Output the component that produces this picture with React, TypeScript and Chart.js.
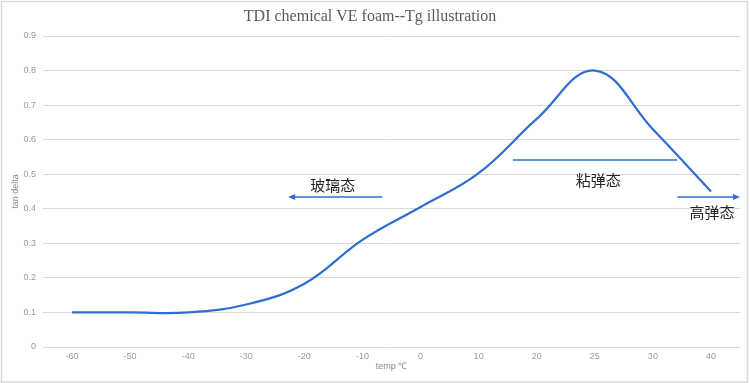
import React, { useEffect, useRef } from "react";
import { Chart, registerables } from "chart.js";

Chart.register(...registerables);

const temps = ["-60", "-50", "-40", "-30", "-20", "-10", "0", "10", "20", "25", "30", "40"];
const tanDelta = [0.1, 0.1, 0.1, 0.123, 0.183, 0.31, 0.405, 0.503, 0.66, 0.8, 0.63, 0.45];

// annotations in data coordinates (x = category index, y = tan delta)
const stateLabels = ["玻璃态", "粘弹态", "高弹态"];
const labelX = [4.49, 9.06, 11.02];
const labelY = [0.469, 0.483, 0.39];
const arrowFromX = [5.34, 7.59, 10.42];
const arrowToX = [3.72, 10.42, 11.5];
const arrowY = [0.434, 0.541, 0.434];
const arrowHead = [true, false, true];

const LINE_COLOR = "#2f6fd1";

const annotationPlugin = {
  id: "stateAnnotations",
  afterDatasetsDraw(chart: any) {
    const { ctx } = chart;
    const xs = chart.scales.x;
    const ys = chart.scales.y;
    ctx.save();
    for (let i = 0; i < stateLabels.length; i++) {
      const x1 = xs.getPixelForValue(arrowFromX[i]);
      const x2 = xs.getPixelForValue(arrowToX[i]);
      const y = ys.getPixelForValue(arrowY[i]);
      ctx.strokeStyle = LINE_COLOR;
      ctx.fillStyle = LINE_COLOR;
      ctx.lineWidth = 1.5;
      const dir = Math.sign(x2 - x1);
      const endX = arrowHead[i] ? x2 - dir * 5 : x2;
      ctx.beginPath();
      ctx.moveTo(x1, y);
      ctx.lineTo(endX, y);
      ctx.stroke();
      if (arrowHead[i]) {
        ctx.beginPath();
        ctx.moveTo(x2, y);
        ctx.lineTo(x2 - dir * 7, y - 3);
        ctx.lineTo(x2 - dir * 7, y + 3);
        ctx.closePath();
        ctx.fill();
      }
      ctx.fillStyle = "#262626";
      ctx.font = '15px "Noto Sans CJK SC"';
      ctx.textAlign = "center";
      ctx.textBaseline = "middle";
      ctx.fillText(stateLabels[i], xs.getPixelForValue(labelX[i]), ys.getPixelForValue(labelY[i]));
    }
    ctx.restore();
  },
};

const borderPlugin = {
  id: "outerBorder",
  beforeDraw(chart: any) {
    const { ctx, width, height } = chart;
    ctx.save();
    ctx.fillStyle = "#ffffff";
    ctx.fillRect(0, 0, width, height);
    ctx.strokeStyle = "#d9d9d9";
    ctx.lineWidth = 1.5;
    ctx.strokeRect(1.5, 1.5, width - 4, height - 2.5);
    ctx.restore();
  },
};

export default function App() {
  const ref = useRef<HTMLCanvasElement>(null);
  useEffect(() => {
    if (!ref.current) return;
    const chart = new Chart(ref.current, {
      type: "line",
      data: {
        labels: temps,
        datasets: [
          {
            data: tanDelta,
            borderColor: LINE_COLOR,
            backgroundColor: LINE_COLOR,
            borderWidth: 2.25,
            pointRadius: 0,
            tension: 0.4,
            fill: false,
          },
        ],
      },
      options: {
        animation: false,
        responsive: false,
        layout: { padding: { left: 0, right: 10, top: 0, bottom: 0 } },
        plugins: {
          legend: { display: false },
          tooltip: { enabled: false },
          title: {
            display: true,
            text: "TDI chemical VE foam--Tg illustration",
            color: "#595959",
            font: { family: '"Liberation Serif", serif', size: 16, weight: "normal" },
            padding: { top: 7, bottom: 9.8 },
          },
        },
        scales: {
          x: {
            offset: true,
            grid: { display: false, drawTicks: false },
            border: { display: false },
            ticks: {
              color: "#9a9a9a",
              font: { family: '"Liberation Sans", sans-serif', size: 9 },
              padding: 4,
              maxRotation: 0,
            },
            title: {
              display: true,
              text: "temp ℃",
              color: "#8a8a8a",
              font: { family: '"Liberation Sans", sans-serif', size: 9 },
              padding: { top: 0, bottom: 10.6 },
            },
            afterFit(scale: any) {
              scale.height = 36;
            },
          },
          y: {
            min: 0,
            max: 0.9,
            ticks: {
              stepSize: 0.1,
              color: "#9a9a9a",
              font: { family: '"Liberation Sans", sans-serif', size: 9 },
              padding: 7,
            },
            grid: { color: "#d9d9d9", lineWidth: 1, drawTicks: false },
            border: { display: false },
            title: {
              display: true,
              text: "tan delta",
              color: "#8a8a8a",
              font: { family: '"Liberation Sans", sans-serif', size: 9 },
              padding: { top: 10.6, bottom: 0 },
            },
            afterFit(scale: any) {
              scale.width = 43;
            },
          },
        },
      },
      plugins: [borderPlugin, annotationPlugin],
    });
    return () => chart.destroy();
  }, []);
  return (
    <div style={{ position: "fixed", left: 0, top: 0, width: 750, height: 383 }}>
      <canvas ref={ref} width={750} height={383} style={{ display: "block" }} />
    </div>
  );
}
